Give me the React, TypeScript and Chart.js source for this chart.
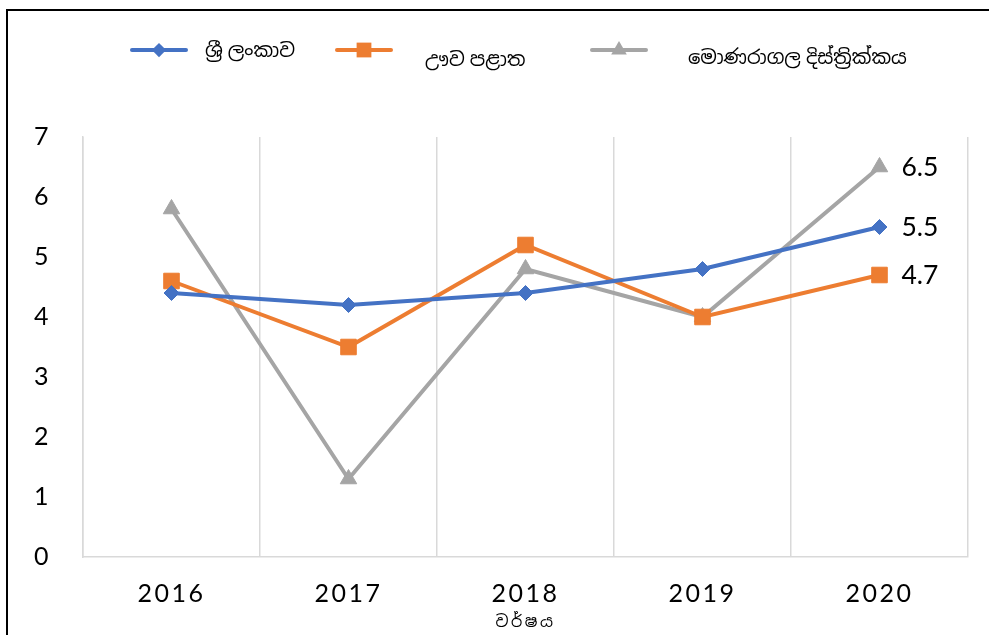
import React, { useEffect, useRef } from "react";
import { Chart, registerables } from "chart.js";

Chart.register(...registerables);

const categories = ["2016", "2017", "2018", "2019", "2020"];
const seriesNames = ["ශ්‍රී ලංකාව", "ඌව පළාත", "මොණරාගල දිස්ත්‍රික්කය"];
const sriLanka = [4.4, 4.2, 4.4, 4.8, 5.5];
const uva = [4.6, 3.5, 5.2, 4.0, 4.7];
const monaragala = [5.8, 1.3, 4.8, 4.0, 6.5];
const yMin = 0;
const yMax = 7;
const yStep = 1;
const xTitle = "වර්ෂය";

const colors = ["#4472C4", "#ED7D31", "#A5A5A5"];
const pointStyles = ["rectRot", "rect", "triangle"];
const pointRadii = [7.5, 11, 9.5];

const FONT = "Lato, 'Noto Sans', 'Noto Sans Sinhala', sans-serif";

function drawMarker(ctx: CanvasRenderingContext2D, style: string, r: number, x: number, y: number) {
  ctx.beginPath();
  if (style === "rectRot") {
    ctx.moveTo(x - r, y);
    ctx.lineTo(x, y - r);
    ctx.lineTo(x + r, y);
    ctx.lineTo(x, y + r);
  } else if (style === "rect") {
    const s = r * Math.SQRT1_2;
    ctx.rect(x - s, y - s, 2 * s, 2 * s);
  } else {
    ctx.moveTo(x, y - r);
    ctx.lineTo(x + r * Math.sin(Math.PI / 3), y + r / 2);
    ctx.lineTo(x - r * Math.sin(Math.PI / 3), y + r / 2);
  }
  ctx.closePath();
  ctx.fill();
}

const legendPlugin = {
  id: "customLegend",
  afterDraw(chart: any) {
    const ctx = chart.ctx;
    const items = [
      { lineX: 132, textX: 205, textY: 51 },
      { lineX: 337, textX: 425, textY: 60 },
      { lineX: 592, textX: 688, textY: 58 },
    ];
    const lineY = 50;
    ctx.save();
    ctx.letterSpacing = "0px";
    chart.data.datasets.forEach((ds: any, i: number) => {
      const it = items[i];
      ctx.strokeStyle = ds.borderColor;
      ctx.lineWidth = 4;
      ctx.lineCap = "round";
      ctx.beginPath();
      ctx.moveTo(it.lineX, lineY);
      ctx.lineTo(it.lineX + 54, lineY);
      ctx.stroke();
      ctx.fillStyle = ds.backgroundColor;
      drawMarker(ctx, ds.pointStyle, ds.pointRadius * 0.95, it.lineX + 27, lineY);
      ctx.fillStyle = "#000";
      ctx.font = `19.5px ${FONT}`;
      ctx.textAlign = "left";
      ctx.textBaseline = "middle";
      ctx.fillText(ds.label, it.textX, it.textY);
    });
    ctx.restore();
  },
};

const spacingPlugin = {
  id: "spacing",
  beforeDraw(chart: any) {
    chart.ctx.letterSpacing = "2.5px";
  },
  beforeDatasetsDraw(chart: any) {
    chart.ctx.letterSpacing = "0px";
  },
};

const lastLabelPlugin = {
  id: "lastLabels",
  afterDatasetsDraw(chart: any) {
    const ctx = chart.ctx;
    ctx.save();
    ctx.letterSpacing = "0px";
    ctx.font = `26.5px ${FONT}`;
    ctx.fillStyle = "#000";
    ctx.textAlign = "left";
    ctx.textBaseline = "middle";
    chart.data.datasets.forEach((ds: any, i: number) => {
      const meta = chart.getDatasetMeta(i);
      const n = ds.data.length - 1;
      const el = meta.data[n];
      ctx.fillText(String(ds.data[n].toFixed(1)), el.x + 22, el.y);
    });
    ctx.restore();
  },
};

export default function App() {
  const ref = useRef<HTMLCanvasElement>(null);
  useEffect(() => {
    document.body.style.margin = "0";
    const seriesData = [sriLanka, uva, monaragala];
    const chart = new Chart(ref.current!, {
      type: "line",
      data: {
        labels: categories,
        datasets: seriesData.map((d, i) => ({
          label: seriesNames[i],
          data: d,
          borderColor: colors[i],
          backgroundColor: colors[i],
          borderWidth: 4,
          pointStyle: pointStyles[i],
          pointRadius: pointRadii[i],
          pointBorderWidth: 1,
          pointBackgroundColor: colors[i],
          pointBorderColor: colors[i],
          tension: 0,
          fill: false,
        })),
      },
      options: {
        animation: false,
        responsive: false,
        maintainAspectRatio: false,
        layout: { padding: { top: 137, right: 21, left: 0, bottom: 0 } },
        plugins: {
          legend: { display: false },
          tooltip: { enabled: false },
        },
        scales: {
          x: {
            offset: true,
            grid: { offset: true, color: "#D9D9D9", lineWidth: 1.5, drawTicks: false },
            border: { display: true, color: "#D9D9D9", width: 1.5 },
            ticks: { color: "#000", font: { size: 25, family: FONT }, padding: 22, maxRotation: 0 },
            title: { display: true, text: xTitle, color: "#000", font: { size: 16, family: FONT }, padding: { top: 0, bottom: 4 } },
            afterFit: (s: any) => { s.height = 78; },
          },
          y: {
            min: yMin,
            max: yMax,
            ticks: { stepSize: yStep, color: "#000", font: { size: 25, family: FONT }, padding: 32 },
            grid: { display: false, drawTicks: false },
            border: { display: true, color: "#D9D9D9", width: 1.5 },
            afterFit: (s: any) => { s.width = 83; },
          },
        },
      },
      plugins: [spacingPlugin, lastLabelPlugin, legendPlugin],
    });
    return () => chart.destroy();
  }, []);
  return (
    <div style={{ position: "relative", width: 989, height: 635, overflow: "hidden", background: "#fff" }}>
      <div style={{ position: "absolute", left: 6, top: 9, width: 2000, height: 2000, borderLeft: "2px solid #000", borderTop: "2px solid #000" }} />
      <canvas ref={ref} width={989} height={635} style={{ position: "relative", display: "block" }} />
    </div>
  );
}
